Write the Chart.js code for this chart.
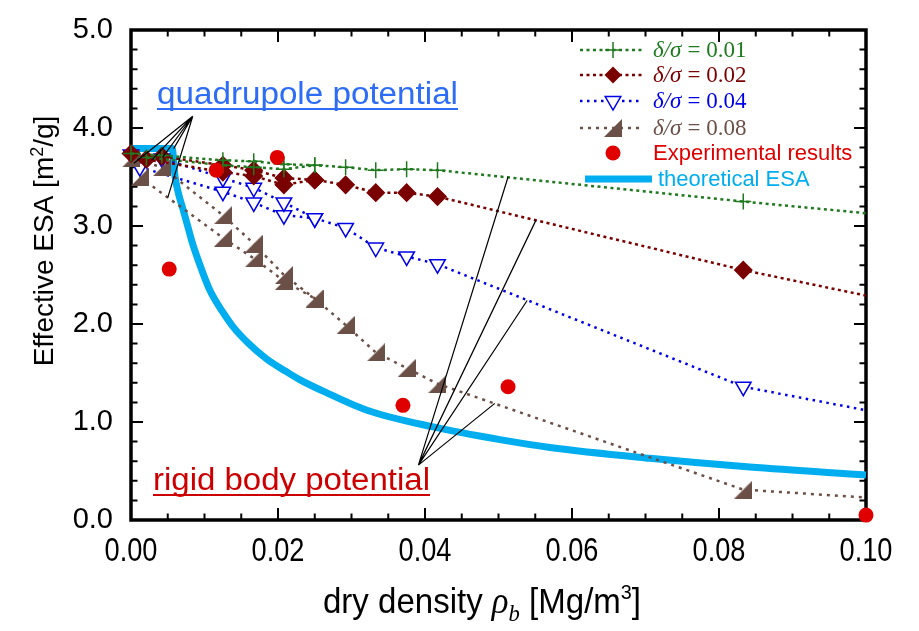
<!DOCTYPE html>
<html><head><meta charset="utf-8">
<script src="https://cdn.jsdelivr.net/npm/chart.js@4.4.1/dist/chart.umd.min.js"></script>
<style>html,body{margin:0;padding:0;background:#fff}#wrap{width:919px;height:631px}</style>
</head><body><div id="wrap"><canvas id="c" width="919" height="631"></canvas></div>
<script>
// ---- data ----
const xTickLabels = ['0.00','0.02','0.04','0.06','0.08','0.10'];
const yTickLabels = ['0.0','1.0','2.0','3.0','4.0','5.0'];

const g1x = [0, 0.0042, 0.0125, 0.0167, 0.0208, 0.025, 0.0292, 0.0333, 0.0375, 0.0417, 0.0833, 0.1];
const g1y = [3.74, 3.72, 3.67, 3.66, 3.63, 3.62, 3.60, 3.57, 3.58, 3.57, 3.25, 3.13];
const g2x = [0.0021, 0.0125, 0.0167, 0.0208, 0.025];
const g2y = [3.70, 3.62, 3.60, 3.58, 3.62];

const r1x = [0, 0.0042, 0.0125, 0.0167, 0.0208, 0.025, 0.0292, 0.0333, 0.0375, 0.0417, 0.0833, 0.1];
const r1y = [3.74, 3.71, 3.62, 3.57, 3.49, 3.47, 3.42, 3.34, 3.34, 3.30, 2.55, 2.29];
const r2x = [0.0021, 0.0125, 0.0167, 0.0208, 0.025];
const r2y = [3.68, 3.55, 3.51, 3.42, 3.47];

const b1x = [0, 0.0042, 0.0125, 0.0167, 0.0208, 0.025, 0.0292, 0.0333, 0.0375, 0.0417, 0.0833, 0.1];
const b1y = [3.73, 3.69, 3.49, 3.39, 3.24, 3.08, 2.98, 2.78, 2.69, 2.61, 1.36, 1.12];
const b2x = [0.0012, 0.0125, 0.0167, 0.0208, 0.025];
const b2y = [3.60, 3.35, 3.24, 3.11, 3.08];

const n1x = [0, 0.0042, 0.0125, 0.0167, 0.0208, 0.025, 0.0292, 0.0333, 0.0375, 0.0417, 0.0833, 0.1];
const n1y = [3.69, 3.60, 3.11, 2.82, 2.50, 2.26, 1.99, 1.71, 1.55, 1.39, 0.31, 0.23];
const n2x = [0.0012, 0.0125, 0.0167, 0.0208, 0.025];
const n2y = [3.50, 2.88, 2.67, 2.44, 2.26];

const expX = [0.0052, 0.0116, 0.0199, 0.037, 0.0513, 0.1];
const expY = [2.56, 3.57, 3.70, 1.17, 1.36, 0.05];

const thX = [0, 0.0056, 0.0060, 0.0065, 0.0070, 0.0076, 0.0083, 0.0092, 0.0107, 0.0125, 0.0139, 0.0160, 0.0185, 0.0210, 0.0230, 0.0260, 0.0321, 0.0411, 0.0502, 0.0570, 0.0706, 0.0842, 0.1000];
const thY = [3.79, 3.79, 3.50, 3.32, 3.19, 3.03, 2.84, 2.64, 2.35, 2.12, 1.97, 1.80, 1.64, 1.52, 1.43, 1.32, 1.12, 0.95, 0.82, 0.74, 0.63, 0.54, 0.46];

const ratioLabels = ['0.01', '0.02', '0.04', '0.08'];
const otherLabels = ['Experimental results', 'theoretical ESA'];

// annotation leader lines (data units)
const quadApex = {x: 0.0084, y: 4.12};
const quadTargets = [{x:0.0004,y:3.64},{x:0.0028,y:3.67},{x:0.0043,y:3.70},{x:0.0058,y:3.79},{x:0.0050,y:3.29}];
const rigidApex = {x: 0.0391, y: 0.56};
const rigidTargets = [{x:0.0513,y:3.50},{x:0.0551,y:3.06},{x:0.0539,y:2.24},{x:0.0495,y:1.19}];

// ---- styles ----
const C_G = '#1f7a1f', C_R = '#7a0000', C_B = '#0000e8', C_N = '#6b5048', C_E = '#e00000', C_T = '#00aeef';
const pts = (xs, ys) => xs.map((x, i) => ({x, y: ys[i]}));

function rightTri(color, s) {
  const cv = document.createElement('canvas');
  cv.width = s; cv.height = s;
  const c = cv.getContext('2d');
  c.fillStyle = color;
  c.beginPath(); c.moveTo(0, s); c.lineTo(s, s); c.lineTo(s, 0); c.closePath(); c.fill();
  return cv;
}
const triImg = rightTri(C_N, 18);
const endR = r => (ctx => (ctx.raw && ctx.raw.x >= 0.1) ? 0 : r);

function series(data, color, style, extra) {
  return Object.assign({
    data, showLine: true, borderColor: color, borderWidth: 2.5, borderDash: [3, 3.5],
    pointStyle: style, pointRadius: endR(8.5), pointBorderColor: color, pointBackgroundColor: color,
    pointBorderWidth: 1.5, clip: false, order: 5, tension: 0
  }, extra || {});
}

const datasets = [
  {data: pts(thX, thY), showLine: true, borderColor: C_T, borderWidth: 7, pointRadius: 0,
   cubicInterpolationMode: 'monotone', order: 10, clip: false},
  series(pts(n1x, n1y), C_N, triImg, {borderDash:[3,5]}),
  series(pts(n2x, n2y), C_N, triImg, {borderDash:[3,5]}),
  series(pts(b1x, b1y), C_B, 'triangle', {pointRotation: 180, pointBackgroundColor: '#fff', pointRadius: endR(9), borderDash:[2.5,4.5]}),
  series(pts(b2x, b2y), C_B, 'triangle', {pointRotation: 180, pointBackgroundColor: '#fff', pointRadius: endR(9), borderDash:[2.5,4.5]}),
  series(pts(r1x, r1y), C_R, 'rectRot', {order: 4}),
  series(pts(r2x, r2y), C_R, 'rectRot', {order: 4}),
  series(pts(g1x, g1y), C_G, 'cross', {order: 3, pointRadius: endR(8)}),
  series(pts(g2x, g2y), C_G, 'cross', {order: 3, pointRadius: endR(8)}),
  {data: pts(expX, expY), showLine: false, pointStyle: 'circle', pointRadius: 7.5,
   pointBackgroundColor: C_E, pointBorderColor: C_E, pointBorderWidth: 0, order: 0, clip: false}
];

const SANS = '"Liberation Sans", Arial, sans-serif';
const SERIF = '"Liberation Serif", "Times New Roman", serif';
const NARROW_SCALE = 0.8;

function drawMarker(ctx, kind, x, y, color) {
  ctx.save();
  ctx.fillStyle = color; ctx.strokeStyle = color; ctx.lineWidth = 1.5; ctx.setLineDash([]);
  ctx.beginPath();
  if (kind === 'cross') { ctx.moveTo(x-8,y); ctx.lineTo(x+8,y); ctx.moveTo(x,y-8); ctx.lineTo(x,y+8); ctx.stroke(); }
  else if (kind === 'rectRot') { ctx.moveTo(x,y-8.5); ctx.lineTo(x+8.5,y); ctx.lineTo(x,y+8.5); ctx.lineTo(x-8.5,y); ctx.closePath(); ctx.fill(); }
  else if (kind === 'tri') { const r=9; ctx.moveTo(x-r*0.866,y-r/2); ctx.lineTo(x+r*0.866,y-r/2); ctx.lineTo(x,y+r); ctx.closePath(); ctx.fillStyle='#fff'; ctx.fill(); ctx.stroke(); }
  else if (kind === 'rt') { ctx.drawImage(triImg, x-9, y-9); }
  else if (kind === 'circle') { ctx.arc(x,y,7.5,0,Math.PI*2); ctx.fill(); }
  ctx.restore();
}

const deco = {
  id: 'deco',
  beforeDatasetsDraw(chart) {
    const {ctx, chartArea: a, scales: {x, y}} = chart;
    ctx.save();
    ctx.strokeStyle = '#000'; ctx.lineWidth = 2; ctx.beginPath();
    for (let v = 0; v <= 0.1 + 1e-9; v += 0.005) {
      const p = x.getPixelForValue(v);
      const L = (Math.round(v / 0.005) % 4 === 0) ? 12 : 6.5;
      ctx.moveTo(p, a.bottom); ctx.lineTo(p, a.bottom - L);
      ctx.moveTo(p, a.top); ctx.lineTo(p, a.top + L);
    }
    for (let v = 0; v <= 5 + 1e-9; v += 0.2) {
      const p = y.getPixelForValue(v);
      const L = (Math.round(v / 0.2) % 5 === 0) ? 12 : 6.5;
      ctx.moveTo(a.left, p); ctx.lineTo(a.left + L, p);
      ctx.moveTo(a.right, p); ctx.lineTo(a.right - L, p);
    }
    ctx.stroke();
    ctx.lineWidth = 3.5;
    ctx.strokeRect(a.left, a.top, a.right - a.left, a.bottom - a.top);

    // x tick labels (condensed), placed by the x scale
    ctx.fillStyle = '#000'; ctx.font = '34px ' + SANS; ctx.textBaseline = 'alphabetic'; ctx.textAlign = 'center';
    x.ticks.forEach((t, i) => {
      const p = x.getPixelForValue(t.value);
      ctx.save(); ctx.translate(p, a.bottom + 41); ctx.scale(NARROW_SCALE, 1);
      ctx.fillText(xTickLabels[i], 0, 0); ctx.restore();
    });
    ctx.restore();
  },
  afterDatasetsDraw(chart) {
    const {ctx, scales: {x, y}} = chart;
    ctx.save();
    // leader lines
    ctx.strokeStyle = '#000'; ctx.lineWidth = 1.2; ctx.beginPath();
    const fan = (apex, targets) => {
      const ax = x.getPixelForValue(apex.x), ay = y.getPixelForValue(apex.y);
      targets.forEach(t => { ctx.moveTo(ax, ay); ctx.lineTo(x.getPixelForValue(t.x), y.getPixelForValue(t.y)); });
    };
    fan(quadApex, quadTargets); fan(rigidApex, rigidTargets);
    ctx.stroke();

    // annotation texts, underlined
    const label = (txt, color, lx, by, w) => {
      ctx.font = '31px ' + SANS;
      const m = ctx.measureText(txt).width;
      ctx.save(); ctx.translate(lx, by); ctx.scale(w / m, 1);
      ctx.fillStyle = color; ctx.textBaseline = 'alphabetic'; ctx.textAlign = 'left';
      ctx.fillText(txt, 0, 0); ctx.restore();
      ctx.fillStyle = color; ctx.fillRect(lx, by + 4, w, 2);
    };
    label('quadrupole potential', '#2d6cf5', 157, 104, 301);
    label('rigid body potential', '#cc0000', 153, 490, 277);

    // legend
    const rowY = [50, 75, 101, 128, 153, 179];
    const cols = [C_G, C_R, C_B, C_N];
    const kinds = ['cross', 'rectRot', 'tri', 'rt'];
    const dashes = [[3,3.5],[3,3.5],[2.5,4.5],[3,5]];
    for (let i = 0; i < 4; i++) {
      const yy = rowY[i];
      ctx.save(); ctx.strokeStyle = cols[i]; ctx.lineWidth = 2.5; ctx.setLineDash(dashes[i]);
      ctx.beginPath(); ctx.moveTo(580, yy); ctx.lineTo(643, yy); ctx.stroke(); ctx.restore();
      drawMarker(ctx, kinds[i], 613, yy, cols[i]);
      ctx.fillStyle = cols[i]; ctx.textBaseline = 'middle'; ctx.textAlign = 'left';
      ctx.font = 'italic 23px ' + SERIF;
      const t1 = '\u03B4/\u03C3';
      ctx.fillText(t1, 653, yy + 1);
      const w1 = ctx.measureText(t1).width;
      ctx.font = '23px ' + SERIF;
      ctx.fillText('= ' + ratioLabels[i], 659 + w1, yy + 1);
    }
    drawMarker(ctx, 'circle', 613, rowY[4], C_E);
    ctx.font = '22px ' + SANS; ctx.fillStyle = C_E; ctx.textBaseline = 'middle';
    ctx.fillText(otherLabels[0], 653, rowY[4] + 1);
    ctx.fillStyle = C_T; ctx.fillRect(585, rowY[5] - 3.5, 67, 7);
    ctx.fillText(otherLabels[1], 658, rowY[5] + 1);

    // axis titles
    ctx.fillStyle = '#000';
    ctx.save();
    ctx.translate(43, 241); ctx.rotate(-Math.PI / 2);
    const f1 = '28px ' + SANS, f2 = '18px ' + SANS;
    const parts = [['Effective ESA [m', f1, 0], ['2', f2, -10], ['/g]', f1, 0]];
    let tw = 0; parts.forEach(p => { ctx.font = p[1]; tw += ctx.measureText(p[0]).width; });
    let cx = -tw / 2; ctx.textBaseline = 'alphabetic'; ctx.textAlign = 'left';
    parts.forEach(p => { ctx.font = p[1]; ctx.fillText(p[0], cx, 10 + p[2]); cx += ctx.measureText(p[0]).width; });
    ctx.restore();
    // x title (condensed, fitted to the reference width)
    const xp = [['dry density ', '35px ' + SANS, 0], ['\u03C1', 'italic 37px ' + SERIF, 0], ['b', 'italic 24px ' + SERIF, 8],
                [' [Mg/m', '35px ' + SANS, 0], ['3', '21px ' + SANS, -14], [']', '35px ' + SANS, 0]];
    tw = 0; xp.forEach(p => { ctx.font = p[1]; tw += ctx.measureText(p[0]).width; });
    ctx.save(); ctx.translate(482, 613); ctx.scale(318 / tw, 1);
    cx = -tw / 2; ctx.textAlign = 'left'; ctx.textBaseline = 'alphabetic';
    xp.forEach(p => { ctx.font = p[1]; ctx.fillText(p[0], cx, p[2]); cx += ctx.measureText(p[0]).width; });
    ctx.restore();
    ctx.restore();
  }
};

new Chart(document.getElementById('c'), {
  type: 'scatter',
  data: {datasets},
  options: {
    responsive: false, animation: false, events: [],
    layout: {padding: {left: 0, top: 30, right: 53, bottom: 0}},
    plugins: {legend: {display: false}, tooltip: {enabled: false}},
    scales: {
      x: {type: 'linear', min: 0, max: 0.1,
          grid: {display: false}, border: {display: false},
          afterFit: s => { s.height = 111; },
          afterBuildTicks: s => { s.ticks = xTickLabels.map(t => ({value: parseFloat(t)})); },
          ticks: {display: false}},
      y: {type: 'linear', min: 0, max: 5,
          grid: {display: false}, border: {display: false},
          afterFit: s => { s.width = 131; },
          afterBuildTicks: s => { s.ticks = yTickLabels.map(t => ({value: parseFloat(t)})); },
          ticks: {padding: 10, color: '#000', font: {family: SANS, size: 29},
                  callback: (v, i) => yTickLabels[i]}}
    }
  },
  plugins: [deco]
});
</script></body></html>
